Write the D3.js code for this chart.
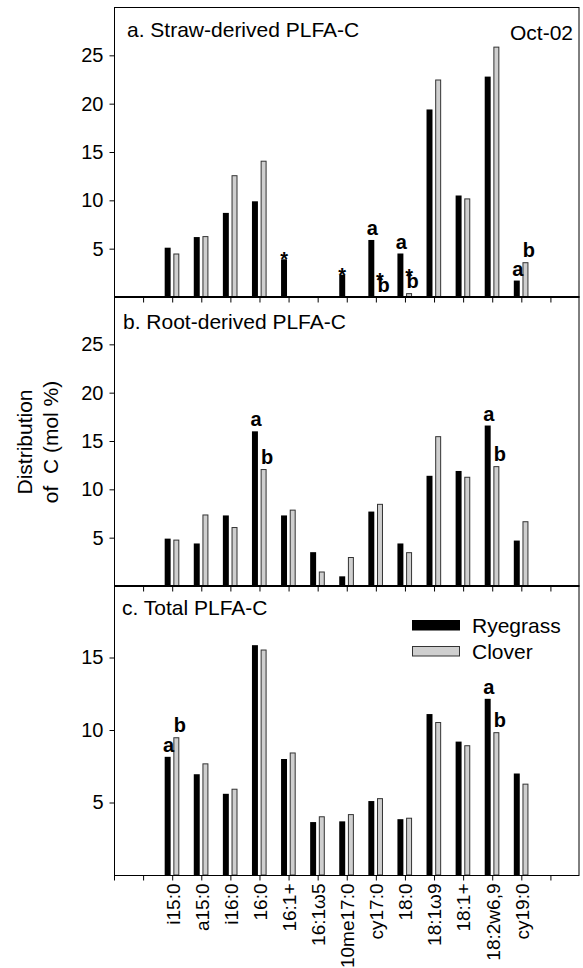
<!DOCTYPE html>
<html>
<head>
<meta charset="utf-8">
<script src="https://cdn.jsdelivr.net/npm/d3@7"></script>
<style>
  html, body { margin: 0; padding: 0; background: #fff; }
  svg { display: block; font-family: "Liberation Sans", Arial, Helvetica, sans-serif; }
  text { white-space: pre; }
</style>
</head>
<body>
<svg id="chart" width="583" height="968"></svg>
<script>
// ---------- data ----------
const categories = ["i15:0", "a15:0", "i16:0", "16:0", "16:1+", "16:1\u03c95", "10me17:0", "cy17:0", "18:0", "18:1\u03c99", "18:1+", "18:2w6,9", "cy19:0"];
const seriesNames = ["Ryegrass", "Clover"];

const strawRyegrass = [5.1, 6.2, 8.7, 9.9, 3.9, 0, 2.3, 5.9, 4.5, 19.4, 10.5, 22.8, 1.7];
const strawClover   = [4.5, 6.3, 12.6, 14.1, 0, 0, 0, 0, 0.4, 22.5, 10.2, 25.9, 3.6];
const rootRyegrass  = [4.9, 4.4, 7.3, 16.0, 7.3, 3.5, 1.0, 7.7, 4.4, 11.4, 11.9, 16.6, 4.7];
const rootClover    = [4.8, 7.4, 6.1, 12.1, 7.9, 1.5, 3.0, 8.5, 3.5, 15.5, 11.3, 12.4, 6.7];
const totalRyegrass = [8.15, 6.95, 5.6, 15.85, 8.0, 3.65, 3.7, 5.1, 3.85, 11.1, 9.2, 12.15, 7.0];
const totalClover   = [9.5, 7.7, 5.95, 15.55, 8.45, 4.05, 4.2, 5.3, 3.95, 10.55, 8.95, 9.85, 6.3];

const yTicksAB = [5, 10, 15, 20, 25];
const yTicksC  = [5, 10, 15];

const panelTitles = ["a. Straw-derived PLFA-C", "b. Root-derived PLFA-C", "c. Total PLFA-C"];
const dateLabel = "Oct-02";
const yTitleLines = ["Distribution", "of  C (mol %)"];

// significance marks: [category, series index (0 Ryegrass, 1 Clover), text]
const marksStraw = [["16:1+", 0, "*"], ["10me17:0", 0, "*"], ["cy17:0", 0, "a"], ["cy17:0", 1, "*b"],
                    ["18:0", 0, "a"], ["18:0", 1, "*b"], ["cy19:0", 0, "a"], ["cy19:0", 1, "b"]];
const marksRoot  = [["16:0", 0, "a"], ["16:0", 1, "b"], ["18:2w6,9", 0, "a"], ["18:2w6,9", 1, "b"]];
const marksTotal = [["i15:0", 0, "a"], ["i15:0", 1, "b"], ["18:2w6,9", 0, "a"], ["18:2w6,9", 1, "b"]];

// ---------- layout ----------
const svg = d3.select("#chart");
const left = 114, right = 579.5;
const panels = [
  { top: 7,   height: 290, max: 30, ticks: yTicksAB, r: strawRyegrass, c: strawClover, marks: marksStraw, title: panelTitles[0], tx: 127, ty: 37 },
  { top: 296, height: 290, max: 30, ticks: yTicksAB, r: rootRyegrass,  c: rootClover,  marks: marksRoot,  title: panelTitles[1], tx: 123, ty: 329 },
  { top: 585, height: 290, max: 20, ticks: yTicksC,  r: totalRyegrass, c: totalClover, marks: marksTotal, title: panelTitles[2], tx: 122, ty: 615 }
];

const x = d3.scaleLinear().domain([-2, categories.length + 1]).range([left, right]);
const step = x(1) - x(0);
const barW = step * 0.205;
const blackOff = -step * 0.258;
const grayOff = step * 0.04;
const colors = ["#000000", "#cfcfcf"];

panels.forEach((p, pi) => {
  const y = d3.scaleLinear().domain([0, p.max]).range([p.top + p.height, p.top]);
  const g = svg.append("g");

  // bars
  const rows = categories.map((cat, i) => ({ cat, i, v: [p.r[i], p.c[i]] }));
  [0, 1].forEach(s => {
    g.selectAll(null)
      .data(rows.filter(d => d.v[s] > 0))
      .join("rect")
      .attr("x", d => x(d.i) + (s === 0 ? blackOff : grayOff) + (s === 1 ? 0.5 : 0))
      .attr("y", d => y(d.v[s]) + (s === 1 ? 0.5 : 0))
      .attr("width", s === 1 ? barW - 1 : barW)
      .attr("height", d => y(0) - y(d.v[s]) - (s === 1 ? 0.5 : 0))
      .attr("fill", colors[s])
      .attr("stroke", s === 1 ? "#333" : "none")
      .attr("stroke-width", 1);
  });

  // frame
  g.append("rect")
    .attr("x", left + 0.5).attr("y", p.top + 0.5)
    .attr("width", right - left - 1).attr("height", p.height)
    .attr("fill", "none").attr("stroke", "#000").attr("stroke-width", 1);

  // y axis
  const ya = g.append("g").attr("transform", `translate(${left + 0.5},0)`)
    .call(d3.axisLeft(y).tickValues(p.ticks).tickSize(5).tickPadding(6));
  ya.select(".domain").remove();
  ya.selectAll("text").attr("font-size", 20).attr("fill", "#000").attr("font-family", null);
  ya.selectAll("line").attr("stroke", "#000");

  // x axis ticks
  const tickIdx = d3.range(-2, categories.length + 1);
  const xa = g.append("g").attr("transform", `translate(0,${p.top + p.height + 0.5})`)
    .call(d3.axisBottom(x).tickValues(tickIdx).tickSize(5)
      .tickFormat(d => (pi === 2 && d >= 0 && d < categories.length) ? categories[d] : ""));
  xa.select(".domain").remove();
  xa.selectAll("line").attr("stroke", "#000");
  xa.selectAll("text")
    .attr("font-size", 19).attr("fill", "#000").attr("font-family", null)
    .attr("transform", "rotate(-90)")
    .attr("text-anchor", "end")
    .attr("x", -8).attr("y", 0).attr("dy", "0.36em");

  // panel title
  g.append("text").attr("x", p.tx).attr("y", p.ty).attr("font-size", 21).text(p.title);

  // significance marks
  p.marks.forEach(([cat, s, t]) => {
    const i = categories.indexOf(cat);
    const v = s === 0 ? p.r[i] : p.c[i];
    const top = y(v);
    const cx = x(i) + (s === 0 ? blackOff : grayOff) + barW / 2;
    const letter = t.replace("*", "");
    const hasStar = t.includes("*");
    const txt = g.append("text").attr("text-anchor", "middle").attr("font-weight", "bold");
    if (hasStar) {
      const starBase = letter ? top - 5 - 5.5 : top + 7;
      txt.append("tspan").attr("x", cx).attr("y", starBase).attr("font-size", 20).text("*");
    }
    if (letter) {
      txt.append("tspan").attr("x", cx + (s === 0 ? 1 : 3.5)).attr("y", top - 5)
        .attr("font-size", 20).text(letter);
    }
  });
});

// date label
svg.append("text").attr("x", 573).attr("y", 40).attr("text-anchor", "end").attr("font-size", 21).text(dateLabel);

// legend
const legend = svg.append("g").attr("transform", "translate(412,620)");
seriesNames.forEach((name, s) => {
  legend.append("rect").attr("x", s === 1 ? 0.5 : 0).attr("y", s * 26 + (s === 1 ? 0.5 : 0))
    .attr("width", s === 1 ? 47 : 48).attr("height", s === 1 ? 9.5 : 10.5)
    .attr("fill", colors[s]).attr("stroke", s === 1 ? "#333" : "none");
  legend.append("text").attr("x", 60).attr("y", s * 26 + 5).attr("dy", "0.36em")
    .attr("font-size", 21).text(name);
});

// y title
yTitleLines.forEach((line, k) => {
  svg.append("text")
    .attr("transform", `translate(${32 + k * 26},442) rotate(-90)`)
    .attr("text-anchor", "middle").attr("font-size", 21).text(line);
});
</script>
</body>
</html>
